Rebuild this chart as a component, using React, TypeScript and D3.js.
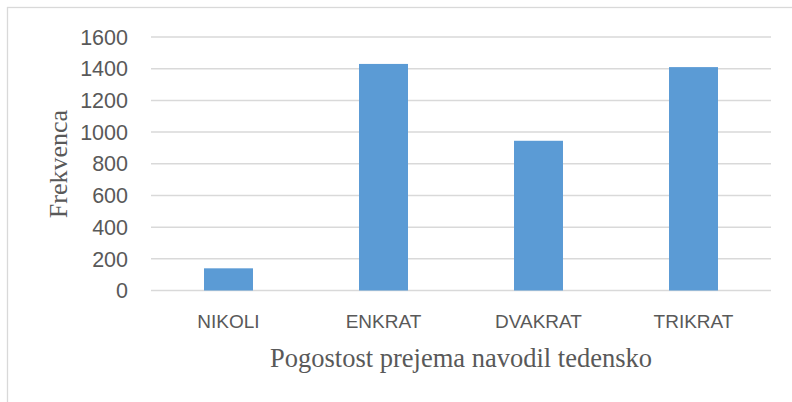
import React from 'react';
import * as d3 from 'd3';

const categories = ['NIKOLI', 'ENKRAT', 'DVAKRAT', 'TRIKRAT'];
const values = [140, 1430, 945, 1410];
const yTicks = [0, 200, 400, 600, 800, 1000, 1200, 1400, 1600];

const width = 792;
const height = 402;
const margin = { top: 37, right: 21, bottom: 112, left: 151 };

export default function App() {
  const x = d3.scaleBand()
    .domain(categories)
    .range([margin.left, width - margin.right])
    .paddingInner(0.684)
    .paddingOuter(0.342);
  const y = d3.scaleLinear()
    .domain([0, 1600])
    .range([height - margin.bottom + 0.5, margin.top]);

  const sans = '"Liberation Sans", Arial, sans-serif';
  const serif = '"Liberation Serif", "Times New Roman", serif';

  return (
    <svg width={width} height={height} style={{ position: 'absolute', left: 0, top: 0, background: '#fff' }}>
      <rect x={7.5} y={7.5} width={width + 10} height={height + 10} fill="#fff" stroke="#d9d9d9" strokeWidth={1.3} />
      {yTicks.map(t => (
        <g key={t}>
          <line x1={margin.left} x2={width - margin.right} y1={y(t)} y2={y(t)} stroke="#d9d9d9" strokeWidth={1.5} />
          <text x={128} y={y(t)} dy="0.36em" textAnchor="end" fontFamily={sans} fontSize={21.5} fill="#595959">{t}</text>
        </g>
      ))}
      {categories.map((c, i) => (
        <rect key={c} x={x(c)} y={y(values[i])} width={x.bandwidth()} height={y(0) - y(values[i])} fill="#5b9bd5" />
      ))}
      {categories.map(c => (
        <text key={c} x={(x(c) as number) + x.bandwidth() / 2} y={328} textAnchor="middle" fontFamily={sans} fontSize={19} fill="#595959">{c}</text>
      ))}
      <text x={461} y={367} textAnchor="middle" fontFamily={serif} fontSize={26.5} fill="#595959">Pogostost prejema navodil tedensko</text>
      <text transform={`translate(67,164) rotate(-90)`} textAnchor="middle" fontFamily={serif} fontSize={26} fill="#595959">Frekvenca</text>
    </svg>
  );
}
